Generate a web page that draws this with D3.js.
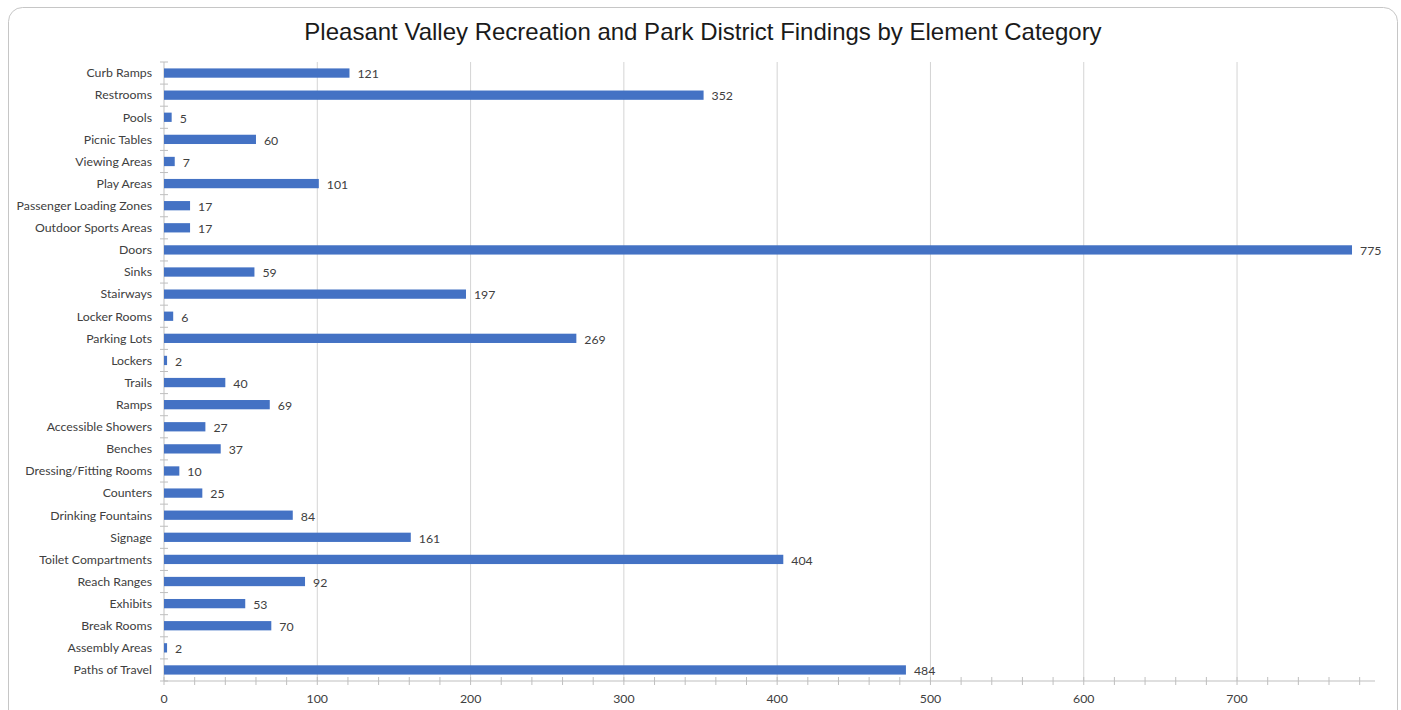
<!DOCTYPE html>
<html>
<head>
<meta charset="utf-8">
<script src="https://cdn.jsdelivr.net/npm/d3@7"></script>
<style>
  body { margin: 0; background: #fff; }
  svg { display: block; }
</style>
</head>
<body>
<svg id="chart" width="1401" height="710"></svg>
<script>
var width = 1401;
var height = 710;

var title = 'Pleasant Valley Recreation and Park District Findings by Element Category';

var categories = [
    'Curb Ramps', 'Restrooms', 'Pools', 'Picnic Tables', 'Viewing Areas', 'Play Areas',
    'Passenger Loading Zones', 'Outdoor Sports Areas', 'Doors', 'Sinks', 'Stairways',
    'Locker Rooms', 'Parking Lots', 'Lockers', 'Trails', 'Ramps', 'Accessible Showers',
    'Benches', 'Dressing/Fitting Rooms', 'Counters', 'Drinking Fountains', 'Signage',
    'Toilet Compartments', 'Reach Ranges', 'Exhibits', 'Break Rooms', 'Assembly Areas',
    'Paths of Travel'
];
var values = [
    121, 352, 5, 60, 7, 101,
    17, 17, 775, 59, 197,
    6, 269, 2, 40, 69, 27,
    37, 10, 25, 84, 161,
    404, 92, 53, 70, 2,
    484
];
var majorTicks = [0, 100, 200, 300, 400, 500, 600, 700];
var minorTicks = d3.range(0, 790, 20);

var margin = {top: 62, right: 26, bottom: 29, left: 164};
var svg = d3.select('#chart');

// outer frame
svg.append('rect')
    .attr('x', 8.5).attr('y', 7.5)
    .attr('width', 1389).attr('height', 720)
    .attr('rx', 14).attr('ry', 14)
    .attr('fill', '#fff')
    .attr('stroke', '#c6c6c6');

svg.append('text')
    .attr('x', 703).attr('y', 40)
    .attr('text-anchor', 'middle')
    .style('font-family', '"Liberation Sans", Arial, sans-serif')
    .style('font-size', '24px')
    .attr('fill', '#1a1a1a')
    .text(title);

var x = d3.scaleLinear()
    .domain([0, 790])
    .range([margin.left, width - margin.right]);

var y = d3.scaleBand()
    .domain(categories)
    .range([margin.top, height - margin.bottom])
    .paddingInner(0.58)
    .paddingOuter(0.29);

var plotBottom = height - margin.bottom;
var labelFont = 'Lato, "Open Sans", sans-serif';

// gridlines
svg.append('g')
    .selectAll('line')
    .data(majorTicks.slice(1))
    .join('line')
    .attr('x1', d => x(d)).attr('x2', d => x(d))
    .attr('y1', margin.top).attr('y2', plotBottom)
    .attr('stroke', '#d4d4d4')
    .attr('stroke-width', 1);

// y axis
var yAxis = svg.append('g')
    .attr('transform', 'translate(' + x(0) + ',0)');
yAxis.append('line')
    .attr('x1', 0).attr('x2', 0)
    .attr('y1', margin.top).attr('y2', plotBottom)
    .attr('stroke', '#bfbfbf');
yAxis.selectAll('line.tick')
    .data(d3.range(categories.length + 1))
    .join('line')
    .attr('class', 'tick')
    .attr('x1', -4).attr('x2', 4)
    .attr('y1', i => margin.top + i * (plotBottom - margin.top) / categories.length)
    .attr('y2', i => margin.top + i * (plotBottom - margin.top) / categories.length)
    .attr('stroke', '#bfbfbf');
yAxis.selectAll('text')
    .data(categories)
    .join('text')
    .attr('x', -12)
    .attr('y', d => y(d) + y.bandwidth() / 2)
    .attr('dy', '0.35em')
    .attr('text-anchor', 'end')
    .style('font-family', labelFont)
    .style('font-size', '12.3px')
    .attr('fill', '#404040')
    .text(d => d);

// x axis
var xAxis = svg.append('g')
    .attr('transform', 'translate(0,' + plotBottom + ')');
xAxis.append('line')
    .attr('x1', x(0)).attr('x2', x(790))
    .attr('y1', 0).attr('y2', 0)
    .attr('stroke', '#bfbfbf');
xAxis.selectAll('line.minor')
    .data(minorTicks)
    .join('line')
    .attr('class', 'minor')
    .attr('x1', d => x(d)).attr('x2', d => x(d))
    .attr('y1', -4).attr('y2', 4)
    .attr('stroke', '#bfbfbf');
xAxis.selectAll('text')
    .data(majorTicks)
    .join('text')
    .attr('x', d => x(d))
    .attr('y', 22)
    .attr('text-anchor', 'middle')
    .style('font-family', labelFont)
    .style('font-size', '12.3px')
    .attr('fill', '#404040')
    .text(d => d);

// bars
var data = categories.map((c, i) => ({name: c, value: values[i]}));
svg.append('g')
    .selectAll('rect')
    .data(data)
    .join('rect')
    .attr('x', x(0))
    .attr('y', d => y(d.name))
    .attr('width', d => x(d.value) - x(0))
    .attr('height', y.bandwidth())
    .attr('fill', '#4472c4');

// value labels
svg.append('g')
    .selectAll('text')
    .data(data)
    .join('text')
    .attr('x', d => x(d.value) + 8)
    .attr('y', d => y(d.name) + y.bandwidth() / 2 + 1)
    .attr('dy', '0.35em')
    .style('font-family', labelFont)
    .style('font-size', '12.3px')
    .attr('fill', '#404040')
    .text(d => d.value);
</script>
</body>
</html>
